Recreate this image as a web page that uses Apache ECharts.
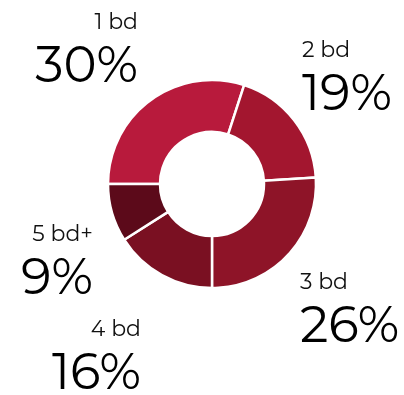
<!DOCTYPE html>
<html>
<head>
<meta charset="utf-8">
<script src="https://cdn.jsdelivr.net/npm/echarts@6/dist/echarts.min.js"></script>
<style>
  html, body { margin: 0; padding: 0; background: #fff; }
  #main { width: 404px; height: 395px; }
</style>
</head>
<body>
<div id="main"></div>
<script>
// bedroom split
const categories = ['1 bd', '2 bd', '3 bd', '4 bd', '5 bd+']
const shares = [30, 19, 26, 16, 9]
const colors = ['#b81a3c', '#a3162f', '#8e1428', '#7a1022', '#5c0a1a']

// where each label sits (x, y of the anchor) and which side it hangs from
const labelSpots = [
  [138, 50, 'right'],
  [302, 78, 'left'],
  [300, 310, 'left'],
  [141, 357, 'right'],
  [93, 262, 'right']
]

const font = 'Montserrat, Inter, "Noto Sans", sans-serif'

let chart = echarts.init(document.getElementById('main'), null, { renderer: 'canvas' })

let pieData = []
for (let i = 0; i < categories.length; i++) {
  pieData.push({
    name: categories[i],
    value: shares[i],
    itemStyle: { color: colors[i] }
  })
}

function richStyles() {
  let r = {}
  for (const side of ['left', 'right']) {
    r['n_' + side] = { fontFamily: font, fontSize: 22, fontWeight: 400, color: '#111', lineHeight: 34, align: side }
    r['p_' + side] = { fontFamily: font, fontSize: 50, fontWeight: 400, color: '#000', lineHeight: 54, align: side }
  }
  return r
}

let option = {
  backgroundColor: '#fff',
  animation: false,
  series: [
    {
      type: 'pie',
      center: [212, 184],
      radius: [52, 104],
      startAngle: 180,
      clockwise: true,
      data: pieData,
      itemStyle: {
        borderColor: '#fff',
        borderWidth: 2.5
      },
      label: {
        show: true,
        position: 'outside',
        overflow: 'none',
        edgeDistance: 0,
        formatter: function (p) {
          const side = labelSpots[p.dataIndex][2]
          return '{n_' + side + '|' + p.name + '}\n{p_' + side + '|' + p.value + '%}'
        },
        rich: richStyles()
      },
      labelLine: { show: false },
      labelLayout: function (params) {
        const spot = labelSpots[params.dataIndex]
        return {
          x: spot[0],
          y: spot[1],
          align: spot[2],
          verticalAlign: 'middle'
        }
      },
      emphasis: { disabled: true }
    }
  ]
}

chart.setOption(option)
</script>
</body>
</html>
